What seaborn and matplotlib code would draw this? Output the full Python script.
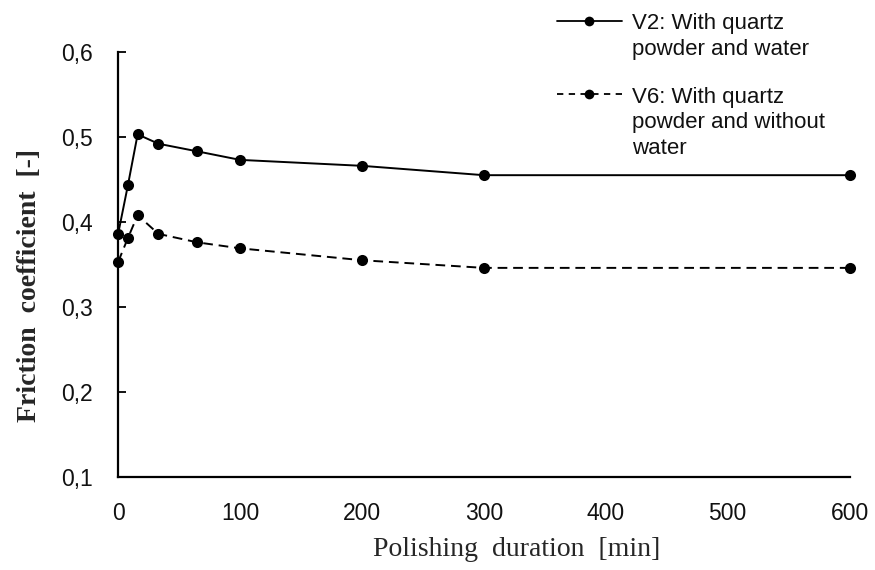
import matplotlib
matplotlib.use("Agg")
import matplotlib.pyplot as plt
import seaborn as sns
import pandas as pd
from matplotlib.ticker import FuncFormatter, FixedLocator

duration = [0, 8, 16, 33, 65, 100, 200, 300, 600]
v2 = [0.386, 0.443, 0.503, 0.492, 0.483, 0.473, 0.466, 0.455, 0.455]
v6 = [0.353, 0.381, 0.408, 0.386, 0.376, 0.369, 0.355, 0.346, 0.346]
label_v2 = "V2: With quartz\npowder and water"
label_v6 = "V6: With quartz\npowder and without\nwater"
x_ticks = [0, 100, 200, 300, 400, 500, 600]
y_ticks = [0.1, 0.2, 0.3, 0.4, 0.5, 0.6]

sns.set_theme(style="white")
plt.rcParams['font.family'] = ['Liberation Sans', 'DejaVu Sans']

fig = plt.figure(figsize=(8.75, 5.7), dpi=100)
ax = fig.add_axes([0.135, 0.163, 0.836, 0.746])

df2 = pd.DataFrame({"x": duration, "y": v2})
df6 = pd.DataFrame({"x": duration, "y": v6})
sns.lineplot(data=df2, x="x", y="y", ax=ax, color="black", linewidth=1.4,
             marker="o", markersize=8, markeredgewidth=0, label=label_v2,
             clip_on=False, zorder=3)
sns.lineplot(data=df6, x="x", y="y", ax=ax, color="black", linewidth=1.4,
             linestyle=(0, (5, 3)), marker="o", markersize=8, markeredgewidth=0,
             label=label_v6, clip_on=False, zorder=3)

ax.set_xlim(0, 600)
ax.set_ylim(0.1, 0.6)
ax.xaxis.set_major_locator(FixedLocator(x_ticks))
ax.yaxis.set_major_locator(FixedLocator(y_ticks))
ax.yaxis.set_major_formatter(FuncFormatter(lambda v, p: f"{v:.1f}".replace(".", ",")))
ax.tick_params(axis="y", direction="in", length=6, width=1.3, color="black",
               labelsize=16.5, pad=18, left=True, labelcolor="#111111")
ax.tick_params(axis="x", length=0, labelsize=16.5, pad=18, labelcolor="#111111")
for s in ["top", "right"]:
    ax.spines[s].set_visible(False)
for s in ["left", "bottom"]:
    ax.spines[s].set_color("black")
    ax.spines[s].set_linewidth(1.6)

ax.set_xlabel("Polishing  duration  [min]", fontsize=20, family="Liberation Serif")
ax.set_ylabel("Friction  coefficient  [-]", fontsize=20, family="Liberation Serif",
              fontweight="bold")
ax.xaxis.set_label_coords(0.545, -0.14)
ax.yaxis.set_label_coords(-0.104, 0.45)

ax.get_legend().remove()
handles, labels = ax.get_legend_handles_labels()
leg = fig.legend(handles, labels, loc="upper left", bbox_to_anchor=(0.614, 1.012),
                 frameon=False, fontsize=16, handlelength=2.9, handletextpad=0.45,
                 labelspacing=1.2)
for h in leg.legend_handles:
    h.set_markersize(7)
    h.set_linewidth(1.3)
leg.legend_handles[1].set_linestyle((0, (3.5, 3)))
for t in leg.get_texts():
    t.set_color("#111111")
    t.set_linespacing(1.3)
for col in leg._legend_handle_box.get_children():
    for row in col.get_children():
        row.align = "top"

fig.savefig("out.png", dpi=100)
